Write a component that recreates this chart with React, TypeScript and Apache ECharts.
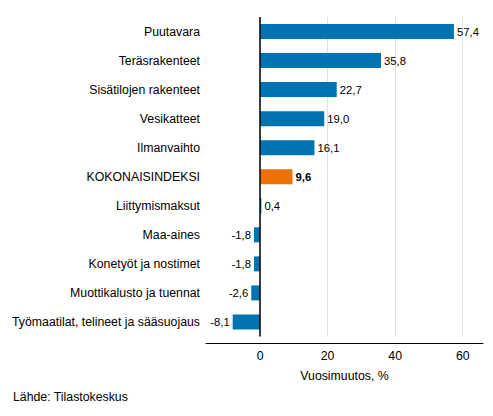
import React, { useEffect, useRef } from 'react';
import * as echarts from 'echarts';

const categories = [
    'Puutavara',
    'Teräsrakenteet',
    'Sisätilojen rakenteet',
    'Vesikatteet',
    'Ilmanvaihto',
    'KOKONAISINDEKSI',
    'Liittymismaksut',
    'Maa-aines',
    'Konetyöt ja nostimet',
    'Muottikalusto ja tuennat',
    'Työmaatilat, telineet ja sääsuojaus',
];
const changes = [57.4, 35.8, 22.7, 19.0, 16.1, 9.6, 0.4, -1.8, -1.8, -2.6, -8.1];
const totalName = 'KOKONAISINDEKSI';
const tickValues = [0, 20, 40, 60];

const FONT = '"Liberation Sans", Arial, sans-serif';

const App: React.FC = () => {
    const chartRef = useRef<HTMLDivElement | null>(null);

    useEffect(() => {
        if (!chartRef.current) return;
        const chart = echarts.init(chartRef.current, null, { renderer: 'svg' });

        const fmt = (v: number) => v.toFixed(1).replace('.', ',');

        const data = changes.map((v, i) => {
            const isTotal = categories[i] === totalName;
            return {
                value: v,
                itemStyle: { color: isTotal ? '#ee7203' : '#0073b0' },
                label: {
                    position: v < 0 ? 'left' : 'right',
                    fontWeight: isTotal ? 'bold' : 'normal',
                },
            };
        });

        chart.setOption({
            animation: false,
            textStyle: { fontFamily: FONT },
            grid: { left: 206, right: 10, top: 17, bottom: 79.5 },
            xAxis: {
                type: 'value',
                min: -16,
                max: 66,
                offset: 6.5,
                name: 'Vuosimuutos, %',
                nameLocation: 'middle',
                nameGap: 27,
                nameTextStyle: { color: '#000', fontSize: 12.3, fontFamily: FONT },
                axisLine: { show: true, lineStyle: { color: '#000', width: 1 } },
                axisTick: { show: false, customValues: tickValues },
                axisLabel: { customValues: tickValues, color: '#000', fontSize: 12.3, margin: 7, fontFamily: FONT },
                splitLine: { show: true, lineStyle: { color: '#e0e0e0', width: 1 } },
            },
            yAxis: {
                type: 'category',
                inverse: true,
                data: categories,
                axisLine: { show: false, onZero: false },
                axisTick: { show: false },
                axisLabel: { color: '#000', fontSize: 12.3, margin: 6, fontFamily: FONT },
            },
            series: [
                {
                    type: 'bar',
                    data,
                    barWidth: 15,
                    label: {
                        show: true,
                        color: '#000',
                        fontSize: 11.3,
                        distance: 3,
                        fontFamily: FONT,
                        formatter: (p: any) => fmt(p.value),
                    },
                    markLine: {
                        silent: true,
                        symbol: 'none',
                        label: { show: false },
                        lineStyle: { color: '#000', width: 1.5, type: 'solid' },
                        data: [{ xAxis: 0 }],
                    },
                },
            ],
            graphic: [
                {
                    type: 'text',
                    left: 13,
                    top: 391,
                    style: { text: 'Lähde: Tilastokeskus', fill: '#000', fontSize: 12.3, fontFamily: FONT },
                },
            ],
        });

        return () => {
            chart.dispose();
        };
    }, []);

    return <div ref={chartRef} style={{ width: 493, height: 416, margin: -8 }} />;
};

export default App;
